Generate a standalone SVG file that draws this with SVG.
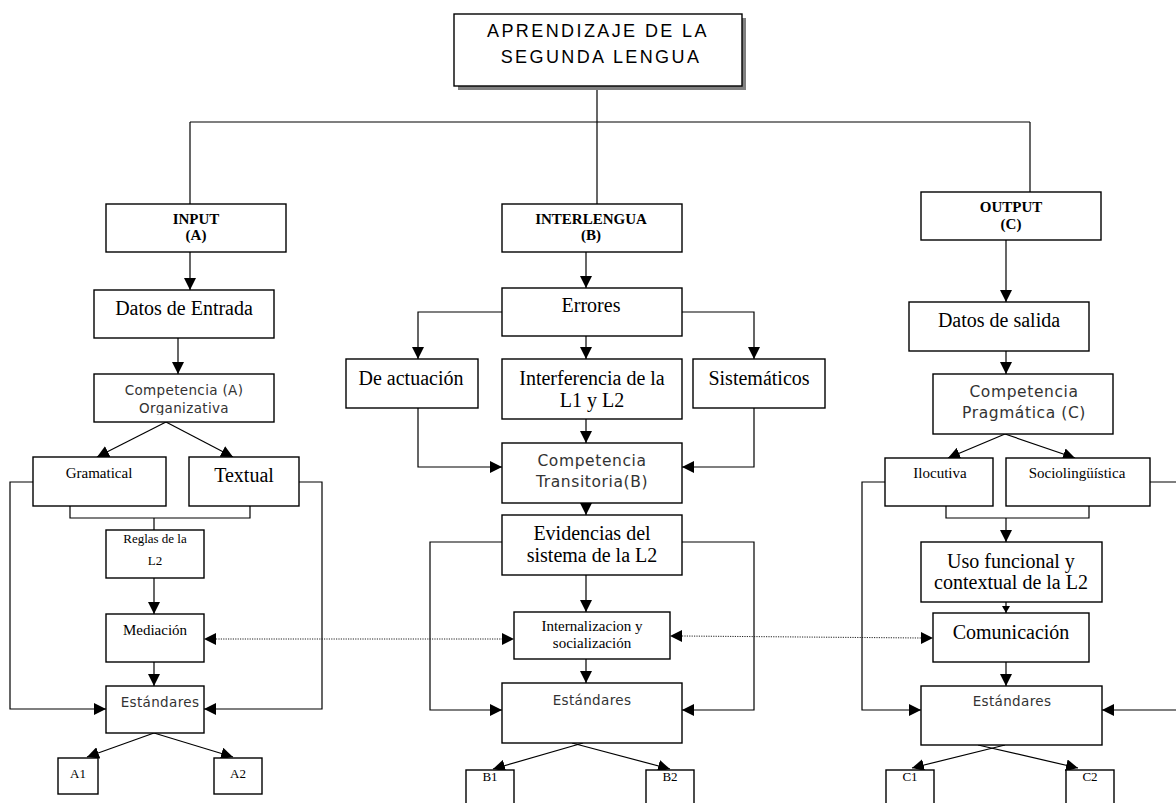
<svg xmlns="http://www.w3.org/2000/svg" width="1176" height="803" viewBox="0 0 1176 803">
  <style>
    .box { fill: #ffffff; stroke: #000000; stroke-width: 1.4; }
    .ln { fill: none; stroke: #000000; stroke-width: 1.2; }
    .dot { fill: none; stroke: #222222; stroke-width: 1; stroke-dasharray: 1.2 1.2; }
    .serif { font-family: "Liberation Serif", "Times New Roman", serif; fill: #000000; text-anchor: middle; }
    .sans { font-family: "DejaVu Sans", Verdana, sans-serif; fill: #333333; text-anchor: middle; }
    .head { font-weight: bold; font-size: 15px; }
    .s13 { font-size: 13px; }
    .s15 { font-size: 15px; }
    .s20 { font-size: 20px; }
    .c13 { font-size: 13.5px; letter-spacing: 0.35px; }
    .c15 { font-size: 15.5px; letter-spacing: 0.6px; }
    .title { font-family: "Liberation Sans", Arial, sans-serif; font-size: 18px; letter-spacing: 2.4px; fill: #000000; text-anchor: middle; }
  </style>
  <defs>
    <marker id="arr" markerUnits="userSpaceOnUse" markerWidth="13" markerHeight="12" refX="12" refY="6" orient="auto">
      <path d="M0,0 L12,6 L0,12 z" fill="#000000"/>
    </marker>
    <marker id="arrSmall" markerUnits="userSpaceOnUse" markerWidth="8" markerHeight="8" refX="7" refY="4" orient="auto">
      <path d="M0,0 L7,4 L0,8 z" fill="#000000"/>
    </marker>
    <clipPath id="clipOrg">
      <rect x="94" y="374" width="180" height="41"/>
    </clipPath>
  </defs>

  <!-- connectors -->
  <g id="connectors">
    <!-- top tree -->
    <path class="ln" d="M597,86 V204"/>
    <path class="ln" d="M190,122 H1030"/>
    <path class="ln" d="M190,122 V204"/>
    <path class="ln" d="M1030,122 V192"/>

    <!-- column A -->
    <path class="ln" d="M190,252 V290" marker-end="url(#arr)"/>
    <path class="ln" d="M178,338 V374" marker-end="url(#arr)"/>
    <path class="ln" d="M166,422 L97,457" marker-end="url(#arr)"/>
    <path class="ln" d="M166,422 L233,457" marker-end="url(#arr)"/>
    <path class="ln" d="M70,506 V518 H250 V506"/>
    <path class="ln" d="M154,518 V530"/>
    <path class="ln" d="M154,578 V614" marker-end="url(#arr)"/>
    <path class="ln" d="M154,662 V686" marker-end="url(#arr)"/>
    <path class="ln" d="M33,482 H10 V709 H106" marker-end="url(#arr)"/>
    <path class="ln" d="M299,482 H322 V709 H204" marker-end="url(#arr)"/>
    <path class="ln" d="M154,733 L87,757" marker-end="url(#arr)"/>
    <path class="ln" d="M154,733 L233,757" marker-end="url(#arr)"/>

    <!-- column B -->
    <path class="ln" d="M586,252 V288" marker-end="url(#arr)"/>
    <path class="ln" d="M502,312 H418 V359" marker-end="url(#arr)"/>
    <path class="ln" d="M682,312 H754 V359" marker-end="url(#arr)"/>
    <path class="ln" d="M586,336 V359" marker-end="url(#arr)"/>
    <path class="ln" d="M586,419 V443" marker-end="url(#arr)"/>
    <path class="ln" d="M418,408 V467 H502" marker-end="url(#arr)"/>
    <path class="ln" d="M754,408 V467 H682" marker-end="url(#arr)"/>
    <path class="ln" d="M586,503 V515" marker-end="url(#arr)"/>
    <path class="ln" d="M586,575 V612" marker-end="url(#arr)"/>
    <path class="ln" d="M586,659 V683" marker-end="url(#arr)"/>
    <path class="ln" d="M502,542 H430 V710 H502" marker-end="url(#arr)"/>
    <path class="ln" d="M682,542 H754 V710 H682" marker-end="url(#arr)"/>
    <path class="ln" d="M583,743 L493,769" marker-end="url(#arr)"/>
    <path class="ln" d="M572,743 L670,769" marker-end="url(#arr)"/>

    <!-- column C -->
    <path class="ln" d="M1006,240 V302" marker-end="url(#arr)"/>
    <path class="ln" d="M1006,351 V374" marker-end="url(#arr)"/>
    <path class="ln" d="M1005,434 L948,458" marker-end="url(#arr)"/>
    <path class="ln" d="M1005,434 L1075,458" marker-end="url(#arr)"/>
    <path class="ln" d="M946,506 V518 H1089 V506"/>
    <path class="ln" d="M1006,518 V542" marker-end="url(#arr)"/>
    <path class="ln" d="M1006,602 V613" marker-end="url(#arrSmall)"/>
    <path class="ln" d="M1006,662 V686" marker-end="url(#arr)"/>
    <path class="ln" d="M885,482 H862 V710 H921" marker-end="url(#arr)"/>
    <path class="ln" d="M1150,482 H1182 V710 H1102" marker-end="url(#arr)"/>
    <path class="ln" d="M1005,745 L912,768" marker-end="url(#arr)"/>
    <path class="ln" d="M978,745 L1078,768" marker-end="url(#arr)"/>

    <!-- dotted cross links -->
    <path class="dot" d="M216,639 H502"/>
    <path d="M204,639 L216,633 L216,645 z" fill="#000000"/>
    <path d="M514,639 L502,633 L502,645 z" fill="#000000"/>
    <path class="dot" d="M682,636 L921,638"/>
    <path d="M670,636 L682,630 L682,642 z" fill="#000000"/>
    <path d="M933,638 L921,632 L921,644 z" fill="#000000"/>
  </g>

  <!-- title -->
  <g id="node-title">
    <rect x="458" y="18" width="288" height="72" fill="#808080"/>
    <rect class="box" x="454" y="14" width="288" height="72"/>
    <text class="title" x="598" y="37">APRENDIZAJE DE LA</text>
    <text class="title" x="601" y="63">SEGUNDA LENGUA</text>
  </g>

  <!-- column A: input -->
  <g id="node-input">
    <rect class="box" x="106" y="204" width="180" height="48"/>
    <text class="serif head" x="196" y="224">INPUT</text>
    <text class="serif head" x="196" y="240">(A)</text>
  </g>
  <g id="node-datos-entrada">
    <rect class="box" x="94" y="290" width="180" height="48"/>
    <text class="serif s20" x="184" y="315">Datos de Entrada</text>
  </g>
  <g id="node-competencia-a">
    <rect class="box" x="94" y="374" width="180" height="48"/>
    <text class="sans c13" x="184" y="395">Competencia (A)</text>
    <text class="sans c13" x="184" y="413" clip-path="url(#clipOrg)">Organizativa</text>
  </g>
  <g id="node-gramatical">
    <rect class="box" x="33" y="457" width="133" height="49"/>
    <text class="serif s15" x="99" y="478">Gramatical</text>
  </g>
  <g id="node-textual">
    <rect class="box" x="189" y="457" width="110" height="49"/>
    <text class="serif s20" x="244" y="482">Textual</text>
  </g>
  <g id="node-reglas">
    <rect class="box" x="106" y="530" width="98" height="48"/>
    <text class="serif s13" x="155" y="543">Reglas de la</text>
    <text class="serif s13" x="155" y="565">L2</text>
  </g>
  <g id="node-mediacion">
    <rect class="box" x="106" y="614" width="98" height="48"/>
    <text class="serif s15" x="155" y="635">Mediación</text>
  </g>
  <g id="node-estandares-a">
    <rect class="box" x="106" y="686" width="98" height="47"/>
    <text class="sans c13" x="160" y="707">Estándares</text>
  </g>
  <g id="node-a1">
    <rect class="box" x="58" y="758" width="40" height="36"/>
    <text class="serif s13" x="78" y="778">A1</text>
  </g>
  <g id="node-a2">
    <rect class="box" x="214" y="758" width="48" height="36"/>
    <text class="serif s13" x="238" y="778">A2</text>
  </g>

  <!-- column B: interlengua -->
  <g id="node-interlengua">
    <rect class="box" x="502" y="204" width="180" height="48"/>
    <text class="serif head" x="591" y="224">INTERLENGUA</text>
    <text class="serif head" x="591" y="240">(B)</text>
  </g>
  <g id="node-errores">
    <rect class="box" x="502" y="288" width="180" height="48"/>
    <text class="serif s20" x="591" y="312">Errores</text>
  </g>
  <g id="node-actuacion">
    <rect class="box" x="346" y="359" width="132" height="49"/>
    <text class="serif s20" x="411" y="385">De actuación</text>
  </g>
  <g id="node-interferencia">
    <rect class="box" x="502" y="359" width="180" height="60"/>
    <text class="serif s20" x="592" y="385">Interferencia de la</text>
    <text class="serif s20" x="592" y="407">L1 y L2</text>
  </g>
  <g id="node-sistematicos">
    <rect class="box" x="693" y="359" width="132" height="49"/>
    <text class="serif s20" x="759" y="385">Sistemáticos</text>
  </g>
  <g id="node-competencia-b">
    <rect class="box" x="502" y="443" width="180" height="60"/>
    <text class="sans c15" x="592" y="466">Competencia</text>
    <text class="sans c15" x="592" y="487">Transitoria(B)</text>
  </g>
  <g id="node-evidencias">
    <rect class="box" x="502" y="515" width="180" height="60"/>
    <text class="serif s20" x="592" y="540">Evidencias del</text>
    <text class="serif s20" x="592" y="562">sistema de la L2</text>
  </g>
  <g id="node-internalizacion">
    <rect class="box" x="514" y="612" width="156" height="47"/>
    <text class="serif s15" x="592" y="631">Internalizacion y</text>
    <text class="serif s15" x="592" y="648">socialización</text>
  </g>
  <g id="node-estandares-b">
    <rect class="box" x="502" y="683" width="180" height="60"/>
    <text class="sans c13" x="592" y="705">Estándares</text>
  </g>
  <g id="node-b1">
    <rect class="box" x="466" y="770" width="48" height="40"/>
    <text class="serif s13" x="490" y="781">B1</text>
  </g>
  <g id="node-b2">
    <rect class="box" x="646" y="770" width="48" height="40"/>
    <text class="serif s13" x="670" y="781">B2</text>
  </g>

  <!-- column C: output -->
  <g id="node-output">
    <rect class="box" x="921" y="192" width="180" height="48"/>
    <text class="serif head" x="1011" y="212">OUTPUT</text>
    <text class="serif head" x="1011" y="229">(C)</text>
  </g>
  <g id="node-datos-salida">
    <rect class="box" x="909" y="302" width="180" height="49"/>
    <text class="serif s20" x="999" y="327">Datos de salida</text>
  </g>
  <g id="node-competencia-c">
    <rect class="box" x="933" y="374" width="180" height="60"/>
    <text class="sans c15" x="1024" y="397">Competencia</text>
    <text class="sans c15" x="1024" y="418">Pragmática (C)</text>
  </g>
  <g id="node-ilocutiva">
    <rect class="box" x="885" y="458" width="108" height="48"/>
    <text class="serif s15" x="940" y="478">Ilocutiva</text>
  </g>
  <g id="node-sociolinguistica">
    <rect class="box" x="1006" y="458" width="144" height="48"/>
    <text class="serif s15" x="1077" y="478">Sociolingüística</text>
  </g>
  <g id="node-uso">
    <rect class="box" x="921" y="542" width="181" height="60"/>
    <text class="serif s20" x="1011" y="568">Uso funcional y</text>
    <text class="serif s20" x="1011" y="589">contextual de la L2</text>
  </g>
  <g id="node-comunicacion">
    <rect class="box" x="933" y="613" width="156" height="49"/>
    <text class="serif s20" x="1011" y="639">Comunicación</text>
  </g>
  <g id="node-estandares-c">
    <rect class="box" x="921" y="686" width="181" height="59"/>
    <text class="sans c13" x="1012" y="706">Estándares</text>
  </g>
  <g id="node-c1">
    <rect class="box" x="886" y="770" width="48" height="40"/>
    <text class="serif s13" x="910" y="781">C1</text>
  </g>
  <g id="node-c2">
    <rect class="box" x="1066" y="770" width="48" height="40"/>
    <text class="serif s13" x="1090" y="781">C2</text>
  </g>
</svg>
